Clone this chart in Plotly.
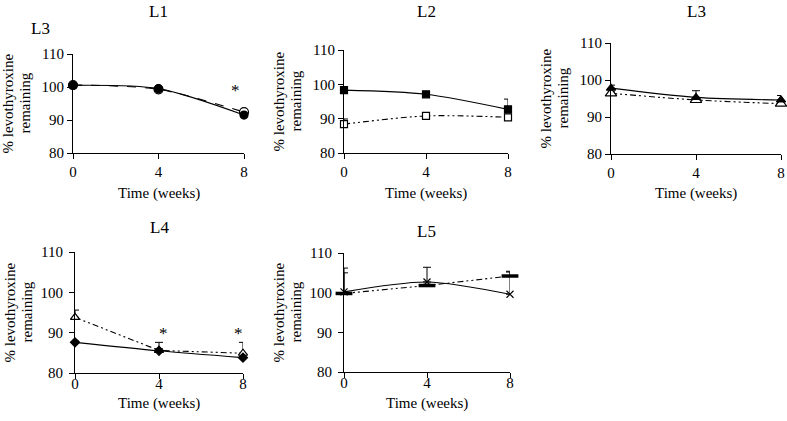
import plotly.graph_objects as go

W, H = 787, 421

weeks = [0, 4, 8]
x_ticks = [0, 4, 8]
y_ticks = [80, 90, 100, 110]

# L1
l1_filled = [100.5, 99.5, 91.5]
l1_filled_err = [0.3, 0.3, 0.5]
l1_open = [100.6, 99.3, 92.4]
l1_open_err = [0.3, 0.3, 0.3]
# L2
l2_filled = [98.3, 97.1, 92.7]
l2_filled_err = [0.3, 0.3, 3.0]
l2_open = [88.4, 90.8, 90.4]
l2_open_err = [1.5, 0.3, 0.3]
# L3
l3_filled = [97.8, 95.3, 94.6]
l3_filled_err = [0.8, 1.8, 1.2]
l3_open = [96.4, 94.6, 93.6]
l3_open_err = [0.4, 0.4, 0.4]
# L4
l4_filled = [87.6, 85.5, 83.8]
l4_filled_err = [0.3, 0.5, 0.3]
l4_open = [93.8, 85.6, 84.9]
l4_open_err = [1.8, 2.0, 2.7]
# L5
l5_cross = [100.2, 102.7, 99.6]
l5_cross_err = [4.8, 3.7, 5.8]
l5_dash = [99.8, 101.8, 104.2]
l5_dash_err = [6.4, 0.3, 1.0]

# significance marks (week, value)
stars_L1 = [(7.6, 98.8)]
stars_L4 = [(4.2, 89.7), (7.8, 89.7)]

panel_titles = ["L1", "L2", "L3", "L4", "L5"]

# panel boxes in pixels: x0, x1, ytop, ybottom
boxes = [
    (73, 244, 54, 153),
    (344, 508, 50, 153),
    (611, 781, 43, 154),
    (75, 243, 252, 373),
    (344, 510, 253, 372),
]

FONT = "Liberation Serif"
DASHDOT = "6px,3px,2px,3px,2px,3px"

fig = go.Figure()


def err(arr):
    return dict(type="data", array=arr, arrayminus=[0] * len(arr), symmetric=False,
                color="black", thickness=1, width=4)


def add(i, y, e, symbol, size, dash, shape, fill="black", lw=1.1, mlw=1.2):
    ax = "" if i == 1 else str(i)
    fig.add_trace(go.Scatter(
        x=weeks, y=y, xaxis="x" + ax, yaxis="y" + ax,
        mode="lines+markers", cliponaxis=False, showlegend=False, hoverinfo="skip",
        line=dict(color="black", width=lw, dash=dash, shape=shape, smoothing=0.8),
        marker=dict(symbol=symbol, size=size, color=fill,
                    line=dict(color="black", width=mlw)),
        error_y=err(e),
    ))


add(1, l1_open, l1_open_err, "circle", 9, "dash", "spline", fill="white")
add(1, l1_filled, l1_filled_err, "circle", 8, "solid", "spline")

add(2, l2_open, l2_open_err, "square", 7, DASHDOT, "spline", fill="white")
add(2, l2_filled, l2_filled_err, "square", 7, "solid", "spline")

add(3, l3_open, l3_open_err, "triangle-up", 10, DASHDOT, "spline", fill="white")
add(3, l3_filled, l3_filled_err, "triangle-up", 8, "solid", "spline")

add(4, l4_open, l4_open_err, "triangle-up", 8, DASHDOT, "linear", fill="white")
add(4, l4_filled, l4_filled_err, "diamond", 7, "solid", "spline")

add(5, l5_dash, l5_dash_err, "line-ew", 12, DASHDOT, "linear", mlw=3.5)
add(5, l5_cross, l5_cross_err, "x-thin", 7, "solid", "spline")

annotations = []
layout = {}
for i, (x0, x1, yt, yb) in enumerate(boxes, start=1):
    ax = "" if i == 1 else str(i)
    top_row = i <= 3
    layout["xaxis" + ax] = dict(
        domain=[x0 / W, x1 / W], anchor="y" + ax, range=[0, 8], automargin=False,
        tickvals=x_ticks, ticks="outside", ticklen=5, tickcolor="black",
        showline=True, linecolor="black", linewidth=1, showgrid=False, zeroline=False,
        tickfont=dict(family=FONT, size=15, color="black"),
        ticklabelstandoff=0 if top_row else -8,
    )
    layout["yaxis" + ax] = dict(
        domain=[1 - yb / H, 1 - yt / H], anchor="x" + ax, range=[80, 110], automargin=False,
        tickvals=y_ticks, ticks="outside", ticklen=5, tickcolor="black",
        showline=True, linecolor="black", linewidth=1, showgrid=False, zeroline=False,
        tickfont=dict(family=FONT, size=15, color="black"),
        ticklabelstandoff=0 if top_row else 3,
    )
    cx = (x0 + x1) / 2
    # panel title
    ty = 12 if top_row else (227 if i == 4 else 231)
    annotations.append(dict(text=panel_titles[i - 1], x=cx / W, y=1 - ty / H, xref="paper", yref="paper",
                            showarrow=False, font=dict(family=FONT, size=17, color="black"),
                            xanchor="center", yanchor="middle"))
    # x title
    xy = 193 if top_row else 403
    annotations.append(dict(text="Time (weeks)", x=cx / W, y=1 - xy / H, xref="paper", yref="paper",
                            showarrow=False, font=dict(family=FONT, size=15, color="black"),
                            xanchor="center", yanchor="middle"))
    # y title (two lines)
    cy = (yt + yb) / 2
    annotations.append(dict(text="% levothyroxine", x=(x0 - 66) / W, y=1 - cy / H,
                            xref="paper", yref="paper", textangle=-90, showarrow=False,
                            font=dict(family=FONT, size=15, color="black"),
                            xanchor="center", yanchor="middle"))
    annotations.append(dict(text="remaining", x=(x0 - 49) / W, y=1 - cy / H,
                            xref="paper", yref="paper", textangle=-90, showarrow=False,
                            font=dict(family=FONT, size=15, color="black"),
                            xanchor="center", yanchor="middle"))

annotations.append(dict(text="L3", x=40 / W, y=1 - 28 / H, xref="paper", yref="paper",
                        showarrow=False, font=dict(family=FONT, size=17, color="black"),
                        xanchor="center", yanchor="middle"))

for (sx, sy) in stars_L1:
    annotations.append(dict(text="*", x=sx, y=sy, xref="x", yref="y", showarrow=False,
                            font=dict(family=FONT, size=17, color="black")))
for (sx, sy) in stars_L4:
    annotations.append(dict(text="*", x=sx, y=sy, xref="x4", yref="y4", showarrow=False,
                            font=dict(family=FONT, size=17, color="black")))

fig.update_layout(
    width=W, height=H, autosize=False,
    margin=dict(l=0, r=0, t=0, b=0),
    paper_bgcolor="white", plot_bgcolor="white",
    hovermode=False,
    annotations=annotations,
    **layout,
)

fig.write_html("out.html", config={"displayModeBar": False},
               post_script="document.body.style.margin='0';document.body.style.padding='0';")
